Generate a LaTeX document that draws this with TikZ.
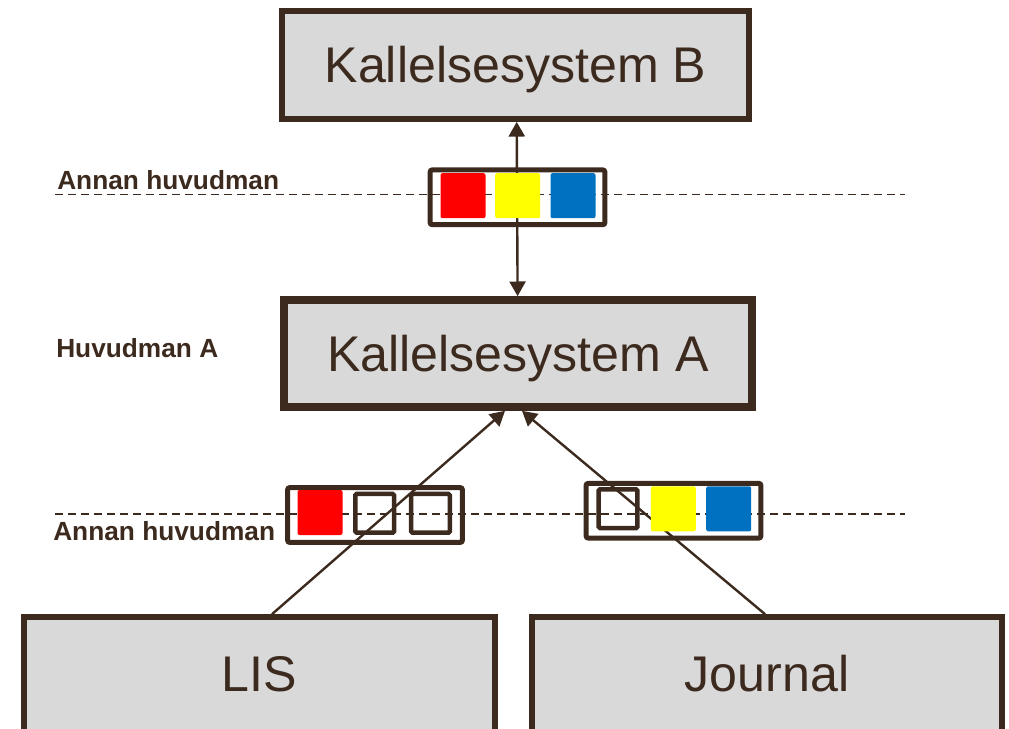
\documentclass[tikz,border=0pt]{standalone}
\usepackage{fontspec}
\setmainfont{Liberation Sans}
\usepackage{tikz}
\usetikzlibrary{arrows.meta}
\definecolor{darkbrown}{HTML}{3C2A1E}
\definecolor{boxgray}{HTML}{D9D9D9}
\definecolor{tokred}{HTML}{FF0000}
\definecolor{tokyellow}{HTML}{FFFF00}
\definecolor{tokblue}{HTML}{0070C0}
\tikzset{
    every picture/.append style={
        >={Triangle[length=11pt,width=12pt]}
    }
}
\tikzset{
    sysbox/.style={shape=rectangle,draw=darkbrown,fill=boxgray,line width=4.3pt,
        inner sep=0pt,text=darkbrown,font=\fontsize{37.6}{45}\selectfont,
        text height=26.9pt,text depth=0pt},
    tokenbar/.style={shape=rectangle,draw=darkbrown,line width=3.75pt,rounded corners=1.5pt,
        minimum width=131pt,minimum height=41pt,inner sep=0pt},
    token/.style={shape=rectangle,rounded corners=1.5pt,minimum size=33.75pt,inner sep=0pt},
    emptytoken/.style={shape=rectangle,draw=darkbrown,line width=3.4pt,rounded corners=1pt,
        minimum size=29pt,inner sep=0pt},
    lbl/.style={anchor=base west,inner sep=0pt,text=darkbrown,
        font=\fontsize{19.7}{24}\selectfont\bfseries},
    divider/.style={draw=darkbrown,line width=1.1pt,dash pattern=on 6pt off 3.75pt},
    flow/.style={draw=darkbrown,line width=1.8pt},
}
\begin{document}
\begin{tikzpicture}[x=0.75pt,y=-0.75pt]
		\useasboundingbox (0,0) rectangle (1009,728);
		% systems
		\node[sysbox,minimum width=350pt,minimum height=81pt] (kalB) at (515.5,65) {Kallelsesystem B};
		\node[sysbox,line width=6pt,minimum width=351pt,minimum height=80pt] (kalA) at (518,353.5) {Kallelsesystem A};
		\node[sysbox,text depth=3.75pt,minimum width=353pt,minimum height=88.5pt] (lis) at (259.5,676) {LIS};
		\node[sysbox,text depth=3.75pt,minimum width=352.5pt,minimum height=88.5pt] (journal) at (767,676) {Journal};
		
		% borders between huvudmän
		\coordinate (topL) at (55,194.5);
		\coordinate (topR) at (905,194.5);
		\coordinate (botL) at (55,514);
		\coordinate (botR) at (905,514);
		\path[divider] (topL) -- (topR);
		\path[divider] (botL) -- (botR);
		\node[lbl] (annanTop) at (57,189) {Annan huvudman};
		\node[lbl] (huvA) at (56,357) {Huvudman A};
		\node[lbl] (annanBot) at (53,540.5) {Annan huvudman};
		
		% calls
		\path[flow,<->] ([xshift=-0.3pt]kalA.north) -- ([xshift=0.9pt]kalB.south);
		\path[flow,->] ([xshift=9.4pt]lis.north) -- ([xshift=-9.75pt]kalA.south);
		\path[flow,->] ([xshift=-1.5pt]journal.north) -- ([xshift=3pt]kalA.south);
		
		% message bars
		\node[tokenbar] (barB) at (517.5,197.3) {};
		\node[token,fill=tokred] (barB1) at (463,195.7) {};
		\node[token,fill=tokyellow] (barB2) at (517.7,195.7) {};
		\node[token,fill=tokblue] (barB3) at (573,195.7) {};
		
		\node[tokenbar] (barL) at (375,515) {};
		\node[token,fill=tokred] (barL1) at (320,512.5) {};
		\node[emptytoken] (barL2) at (374.7,513.3) {};
		\node[emptytoken] (barL3) at (430.5,513.3) {};
		
		\node[tokenbar] (barR) at (673.5,510.7) {};
		\node[emptytoken] (barR1) at (618,508.7) {};
		\node[token,fill=tokyellow] (barR2) at (673.3,508.8) {};
		\node[token,fill=tokblue] (barR3) at (728.7,508.8) {};
		\end{tikzpicture}
\end{document}
